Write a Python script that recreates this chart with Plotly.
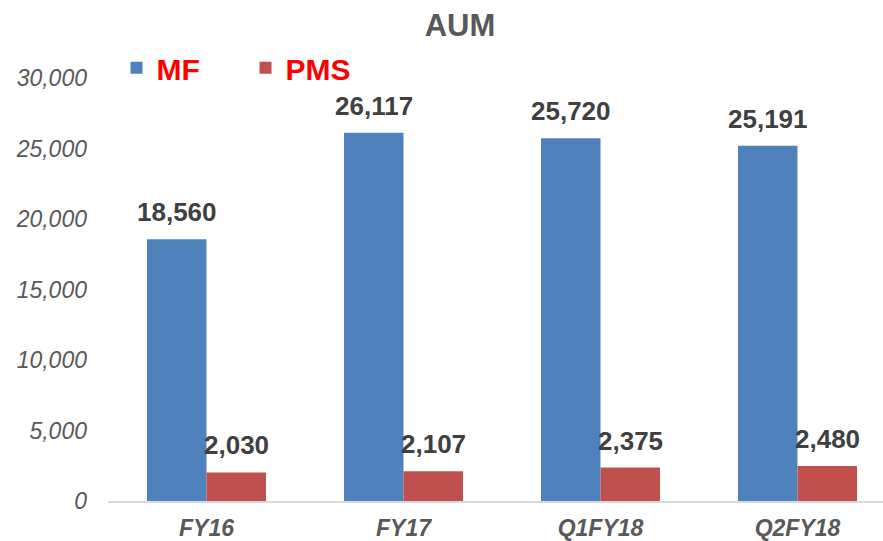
import plotly.graph_objects as go

categories = ["FY16", "FY17", "Q1FY18", "Q2FY18"]
mf_values = [18560, 26117, 25720, 25191]
pms_values = [2030, 2107, 2375, 2480]
y_ticks = [0, 5000, 10000, 15000, 20000, 25000, 30000]

FONT = "Liberation Sans, Arial, sans-serif"
label_font = dict(family=FONT, size=26, color="#404040", weight="bold")

series = [
    ("MF", mf_values, "#4F81BD", -29.5),
    ("PMS", pms_values, "#C0504D", 29.5),
]

fig = go.Figure()
for name, values, color, shift in series:
    fig.add_trace(go.Bar(
        name=name, x=categories, y=values,
        marker=dict(color=color, line=dict(width=0)),
        hoverinfo="x+y",
    ))
    # value labels sit a little above each bar
    for cat, v in zip(categories, values):
        fig.add_annotation(
            x=cat, y=v, text=f"{v:,}", showarrow=False,
            xanchor="center", yanchor="bottom", xshift=shift, yshift=10,
            font=label_font,
        )

fig.update_layout(
    width=883, height=541,
    margin=dict(l=108, r=0, t=78, b=40),
    paper_bgcolor="white", plot_bgcolor="white",
    barmode="group", bargap=0.396, bargroupgap=0,
    title=dict(text="AUM", x=0.521, xanchor="center", y=0.953, yanchor="middle",
               font=dict(family=FONT, size=31, color="#595959", weight="bold")),
    legend=dict(orientation="h", x=0.011, xanchor="left", y=1.024, yanchor="middle",
                font=dict(family=FONT, size=30, color="#FF0000", weight="bold"),
                itemwidth=30, entrywidth=84, traceorder="normal",
                bgcolor="rgba(0,0,0,0)"),
)
fig.update_xaxes(
    range=[-0.5, -0.5 + 775 / 197],
    showline=True, linecolor="#D9D9D9", linewidth=2,
    showgrid=False, ticks="", ticklabelstandoff=5, automargin=False,
    tickfont=dict(family=FONT, size=23, color="#595959", weight="bold", style="italic"),
)
fig.update_yaxes(
    range=[0, 30000], tickvals=y_ticks,
    ticktext=[f"{v:,}" for v in y_ticks],
    showgrid=False, showline=False, zeroline=False, ticks="",
    ticklabelstandoff=20, automargin=False,
    tickfont=dict(family=FONT, size=23, color="#595959", style="italic"),
)

fig.write_html("out.html")
